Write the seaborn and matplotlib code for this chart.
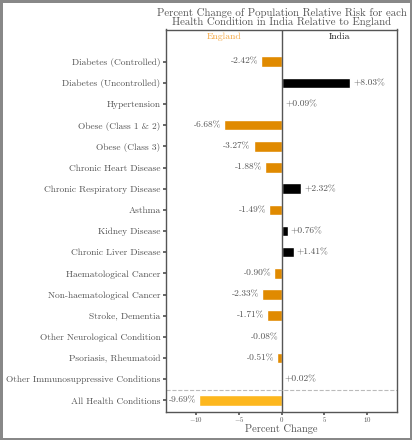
import numpy as np
import pandas as pd
import matplotlib
matplotlib.use("Agg")
import matplotlib.pyplot as plt
import seaborn as sns

# data
conditions = ["Diabetes (Controlled)", "Diabetes (Uncontrolled)", "Hypertension",
              "Obese (Class 1 & 2)", "Obese (Class 3)", "Chronic Heart Disease",
              "Chronic Respiratory Disease", "Asthma", "Kidney Disease",
              "Chronic Liver Disease", "Haematological Cancer", "Non-haematological Cancer",
              "Stroke, Dementia", "Other Neurological Condition", "Psoriasis, Rheumatoid",
              "Other Immunosuppressive Conditions", "All Health Conditions"]
pct_change = [-2.42, 8.03, 0.09, -6.68, -3.27, -1.88, 2.32, -1.49, 0.76, 1.41,
              -0.90, -2.33, -1.71, -0.08, -0.51, 0.02, -9.69]

grey = "#555555"
orange = "#e08a00"
black = "#000000"
total_col = "#fdb71e"

sns.set_theme(style="white")
plt.rcParams["font.family"] = ["cmr10", "DejaVu Serif"]
plt.rcParams["mathtext.fontset"] = "cm"
plt.rcParams["axes.formatter.use_mathtext"] = True
plt.rcParams["axes.unicode_minus"] = True

df = pd.DataFrame({"cond": conditions, "pct": pct_change})
colors = [total_col if c == "All Health Conditions" else (orange if v < 0 else black)
          for c, v in zip(conditions, pct_change)]

fig = plt.figure(figsize=(4.12, 4.40), dpi=100)
fig.patch.set_edgecolor("#888888")
fig.patch.set_linewidth(2.5)
ax = fig.add_axes([166 / 412, 1 - 412 / 440, (397 - 166) / 412, (412 - 29.5) / 440])

sns.barplot(data=df, y="cond", x="pct", hue="cond", palette=colors, orient="h",
            width=0.5, legend=False, ax=ax, saturation=1)

for i, v in enumerate(pct_change):
    if v < 0:
        ax.annotate("-%.2f%%" % abs(v), (v, i), xytext=(-2, 0), textcoords="offset points",
                    ha="right", va="center", fontsize=6.8, color=grey)
    else:
        ax.annotate("+%.2f%%" % v, (v, i), xytext=(2, 0), textcoords="offset points",
                    ha="left", va="center", fontsize=6.8, color=grey)

ax.axvline(0, color=grey, lw=1)
ax.axhline(len(conditions) - 1.5, color="#bbbbbb", lw=0.8, ls="--")
ax.set_xlim(-13.5, 13.5)
ax.set_ylim(len(conditions) - 0.45, -1.52)
ax.set_xticks([-10, -5, 0, 5, 10])
ax.text(-6.75, -1.18, "England", ha="center", va="center", fontsize=7,
        color="#f5a742", fontweight="bold")
ax.text(6.75, -1.18, "India", ha="center", va="center", fontsize=7,
        color="#222222", fontweight="bold")

ax.set_ylabel("")
ax.set_xlabel("Percent Change", fontsize=7.5, color=grey, labelpad=0)
ax.tick_params(axis="y", labelsize=6.8, colors=grey, left=True, length=2.5, pad=1.5)
ax.tick_params(axis="x", labelsize=5, colors=grey, bottom=True, length=2, pad=0.5)
for s in ax.spines.values():
    s.set_color(grey)
    s.set_linewidth(1)
ax.set_title("Percent Change of Population Relative Risk for each\n"
             "Health Condition in India Relative to England",
             fontsize=7.8, color=grey, linespacing=0.95, pad=3)

fig.savefig("out.png", dpi=100, edgecolor=fig.get_edgecolor())
